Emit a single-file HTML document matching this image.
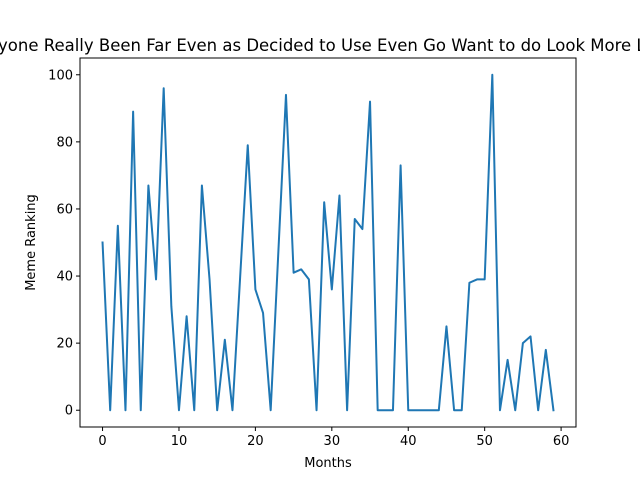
<!DOCTYPE html>
<html><head><meta charset="utf-8"><style>
body{margin:0;background:#fff;}
svg{display:block;font-family:"DejaVu Sans","Liberation Sans",sans-serif;}
</style></head><body>
<svg id="chart" width="640" height="480">
<rect width="640" height="480" fill="#fff"/>
<text x="309" y="51" text-anchor="middle" font-size="16.5">Has Anyone Really Been Far Even as Decided to Use Even Go Want to do Look More Like?</text>
<g id="plot"></g>
</svg>
<script>
const months = Array.from({length:60},(_, i)=>i);
const ranking = [50,0,55,0,89,0,67,39,96,31,0,28,0,67,39,0,21,0,39.5,79,36,29,0,47,94,41,42,39,0,62,36,64,0,57,54,92,0,0,0,73,0,0,0,0,0,25,0,0,38,39,39,100,0,15,0,20,22,0,18,0];
const xTicks = [0,10,20,30,40,50,60];
const yTicks = [0,20,40,60,80,100];

const L=80,R=576,T=58,B=427;
const xMin=-2.95,xMax=61.95,yMin=-5,yMax=105;
const xs=v=>L+(v-xMin)/(xMax-xMin)*(R-L);
const ys=v=>B-(v-yMin)/(yMax-yMin)*(B-T);
const NS="http://www.w3.org/2000/svg";
const g=document.getElementById('plot');
function mk(t,a){const e=document.createElementNS(NS,t);for(const k in a)e.setAttribute(k,a[k]);g.appendChild(e);return e;}

const pts=months.map((m,i)=>xs(m).toFixed(2)+','+ys(ranking[i]).toFixed(2)).join(' ');
const line=mk('polyline',{points:pts,fill:'none',stroke:'#1f77b4','stroke-width':2,'stroke-linejoin':'round','stroke-linecap':'square'});



const frame=mk('rect',{x:L,y:T,width:R-L,height:B-T,fill:'none',stroke:'#000','stroke-width':1});



xTicks.forEach(v=>{
  const x=xs(v);
  const tk=mk('line',{x1:x,x2:x,y1:B,y2:B+4,stroke:'#000'});
  
  
  const t=mk('text',{x:x,y:B+18,'text-anchor':'middle','font-size':13});
  t.textContent=v;
  
  
});
yTicks.forEach(v=>{
  const y=ys(v);
  const tk=mk('line',{x1:L-4,x2:L,y1:y,y2:y,stroke:'#000'});
  
  
  const t=mk('text',{x:L-7,y:y+4.5,'text-anchor':'end','font-size':13});
  t.textContent=v;
  
  
});
const xl=mk('text',{x:(L+R)/2,y:467,'text-anchor':'middle','font-size':13});
xl.textContent='Months';


const yl=mk('text',{x:0,y:0,'text-anchor':'middle','font-size':13,transform:`translate(35,${(T+B)/2}) rotate(-90)`});
yl.textContent='Meme Ranking';


</script>
</body></html>
